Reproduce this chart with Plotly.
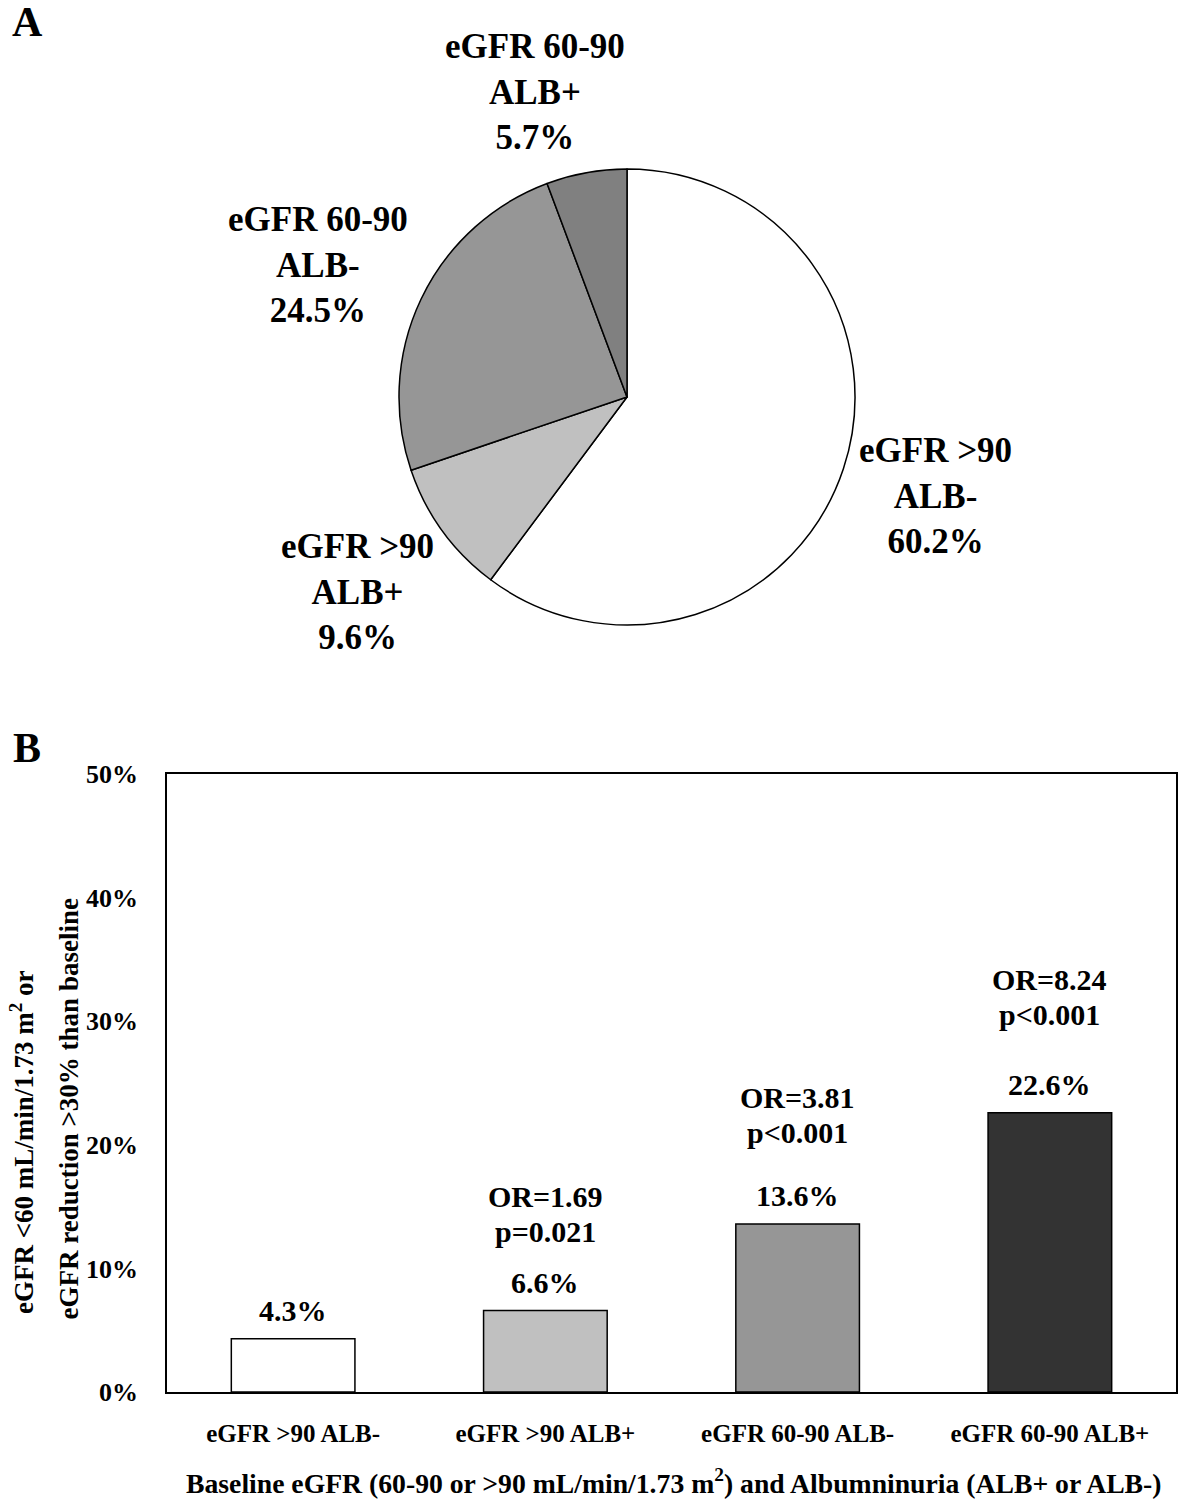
import plotly.graph_objects as go

# ---------------- data ----------------
pie_labels = ["eGFR >90<br>ALB-", "eGFR >90<br>ALB+", "eGFR 60-90<br>ALB-", "eGFR 60-90<br>ALB+"]
pie_values = [60.2, 9.6, 24.5, 5.7]
pie_colors = ["#ffffff", "#c0c0c0", "#969696", "#808080"]

bar_categories = ["eGFR >90 ALB-", "eGFR >90 ALB+", "eGFR 60-90 ALB-", "eGFR 60-90 ALB+"]
bar_values = [4.3, 6.6, 13.6, 22.6]
bar_colors = ["#ffffff", "#c0c0c0", "#969696", "#333333"]
or_texts = [None, "OR=1.69", "OR=3.81", "OR=8.24"]
p_texts = [None, "p=0.021", "p<0.001", "p<0.001"]

y_ticks = [0, 10, 20, 30, 40, 50]

W, H = 1181, 1501
FONT = "Liberation Serif"


def px(x):
    return x / W


def py(y):
    return 1 - y / H


fig = go.Figure()

# ---------------- Panel A: pie ----------------
cx, cy, r = 627, 397, 228
fig.add_trace(go.Pie(
    labels=pie_labels,
    values=pie_values,
    sort=False,
    direction="clockwise",
    rotation=0,
    marker=dict(colors=pie_colors, line=dict(color="black", width=1.5)),
    textinfo="none",
    hoverinfo="label+percent",
    showlegend=False,
    domain=dict(x=[px(cx - r), px(cx + r)], y=[py(cy + r), py(cy - r)]),
))

pie_label_pos = [(935, 496), (357, 592), (318, 265), (535, 92)]
annotations = []
for lab, val, (lx, ly) in zip(pie_labels, pie_values, pie_label_pos):
    annotations.append(dict(
        text=f"{lab}<br>{val:.1f}%", x=px(lx), y=py(ly), xref="paper", yref="paper",
        showarrow=False, xanchor="center", yanchor="middle",
        font=dict(family=FONT, size=35, color="black", weight="bold"),
    ))

# ---------------- Panel B: bars ----------------
fig.add_trace(go.Bar(
    x=bar_categories,
    y=bar_values,
    marker=dict(color=bar_colors, line=dict(color="black", width=1.5)),
    width=0.49,
    showlegend=False,
    xaxis="x", yaxis="y",
))

or_offsets = [0, 114, 126, 133]
lbl_font = dict(family=FONT, size=30, color="black", weight="bold")
for cat, val, ot, pt, off in zip(bar_categories, bar_values, or_texts, p_texts, or_offsets):
    annotations.append(dict(
        text=f"{val:.1f}%", x=cat, y=val, xref="x", yref="y", showarrow=False,
        yanchor="middle", yshift=28, font=lbl_font,
    ))
    if ot:
        annotations.append(dict(
            text=ot, x=cat, y=val, xref="x", yref="y", showarrow=False,
            yanchor="middle", yshift=off, font=lbl_font,
        ))
        annotations.append(dict(
            text=pt, x=cat, y=val, xref="x", yref="y", showarrow=False,
            yanchor="middle", yshift=off - 35, font=lbl_font,
        ))

# y-axis title (two lines, rotated)
ytitle_font = dict(family=FONT, size=27, color="black", weight="bold")
annotations.append(dict(
    text="eGFR <60 mL/min/1.73 m<sup>2</sup> or", x=px(22), y=py(1316), xref="paper", yref="paper",
    showarrow=False, textangle=-90, xanchor="center", yanchor="bottom", font=ytitle_font,
))
annotations.append(dict(
    text="eGFR reduction >30% than baseline", x=px(68), y=py(1322), xref="paper", yref="paper",
    showarrow=False, textangle=-90, xanchor="center", yanchor="bottom", font=ytitle_font,
))

# x-axis title
annotations.append(dict(
    text="Baseline eGFR (60-90 or >90 mL/min/1.73 m<sup>2</sup>) and Albumninuria (ALB+ or ALB-)",
    x=px(674), y=py(1481), xref="paper", yref="paper", showarrow=False,
    xanchor="center", yanchor="middle",
    font=dict(family=FONT, size=27.7, color="black", weight="bold"),
))

# panel letters
for letter, (lx, ly) in [("A", (27, 22)), ("B", (27, 748))]:
    annotations.append(dict(
        text=letter, x=px(lx), y=py(ly), xref="paper", yref="paper", showarrow=False,
        xanchor="center", yanchor="middle",
        font=dict(family=FONT, size=42, color="black", weight="bold"),
    ))

fig.update_layout(
    width=W, height=H,
    margin=dict(l=0, r=0, t=0, b=0, pad=0),
    paper_bgcolor="white", plot_bgcolor="white",
    font=dict(family=FONT, color="black"),
    xaxis=dict(
        domain=[px(167), px(1176)],
        anchor="y",
        automargin=False,
        range=[-0.5, 3.5],
        showline=True, linecolor="black", linewidth=1.5, mirror=True,
        ticks="", showgrid=False,
        tickfont=dict(family=FONT, size=25, color="black", weight="bold"),
        ticklabelstandoff=18,
    ),
    yaxis=dict(
        domain=[py(1392), py(774)],
        anchor="x",
        automargin=False,
        range=[0, 50],
        tickvals=y_ticks,
        ticktext=[f"{t}%" for t in y_ticks],
        showline=True, linecolor="black", linewidth=1.5, mirror=True,
        ticks="", showgrid=False, zeroline=False,
        tickfont=dict(family=FONT, size=26, color="black", weight="bold"),
        ticklabelstandoff=22,
    ),
    annotations=annotations,
)

fig.write_html(
    "out.html",
    config={"displayModeBar": False},
    post_script=(
        "var gd=document.getElementById('{plot_id}');"
        "gd.style.position='fixed';gd.style.top='0px';gd.style.left='0px';"
        "document.body.style.margin='0';document.body.style.overflow='hidden';"
        "document.documentElement.style.overflow='hidden';"
    ),
)
